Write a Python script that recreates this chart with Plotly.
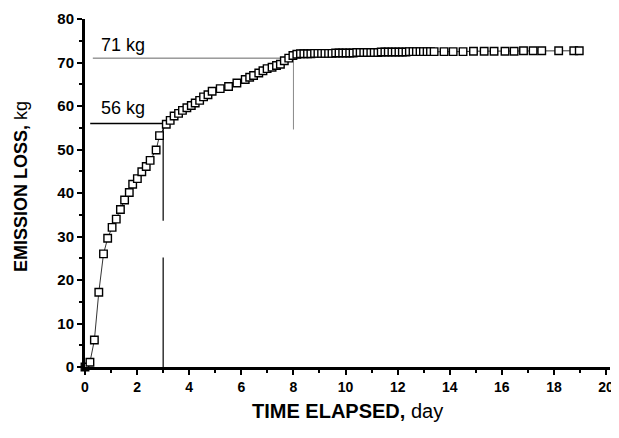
import plotly.graph_objects as go

# ---- data ----
days = [0.00, 0.19, 0.36, 0.53, 0.71, 0.87, 1.04, 1.20, 1.36, 1.52,
        1.70, 1.83, 2.01, 2.18, 2.35, 2.50, 2.73, 2.86, 3.12, 3.27,
        3.42, 3.59, 3.74, 3.91, 4.08, 4.23, 4.40, 4.55, 4.72, 4.88,
        5.19, 5.51, 5.83, 6.15, 6.32, 6.47, 6.67, 6.83, 6.99, 7.18,
        7.35, 7.50, 7.65, 7.82, 7.98,
        8.13, 8.27, 8.40, 8.54, 8.67, 8.81, 8.94, 9.08, 9.21, 9.35,
        9.48, 9.62, 9.75, 9.89, 10.02, 10.16, 10.29, 10.43, 10.56, 10.70,
        10.83, 10.97, 11.10, 11.24, 11.37, 11.51, 11.64, 11.78, 11.91, 12.05,
        12.18, 12.32, 12.45, 12.59, 12.72, 12.86, 12.99, 13.13, 13.26, 13.40,
        13.78, 14.13, 14.51, 14.91, 15.32, 15.70, 16.12, 16.47, 16.83, 17.20,
        17.53, 18.18, 18.76, 18.97]
loss_kg = [0.0, 1.1, 6.2, 17.2, 26.0, 29.6, 32.1, 34.0, 36.2, 38.4,
           40.1, 42.0, 43.3, 44.9, 46.1, 47.5, 49.9, 53.2, 55.8, 56.7,
           57.7, 58.3, 59.0, 59.6, 60.1, 60.7, 61.3, 62.1, 62.6, 63.4,
           64.0, 64.5, 65.3, 66.1, 66.6, 67.0, 67.6, 68.1, 68.6, 68.9,
           69.3, 69.6, 70.4, 71.0, 71.6,
           71.9, 72.0, 72.0, 72.0, 72.0, 72.1, 72.1, 72.1, 72.1, 72.1,
           72.1, 72.2, 72.2, 72.2, 72.2, 72.2, 72.2, 72.3, 72.3, 72.3,
           72.3, 72.3, 72.3, 72.3, 72.4, 72.4, 72.4, 72.4, 72.4, 72.4,
           72.4, 72.4, 72.5, 72.5, 72.5, 72.5, 72.5, 72.5, 72.5, 72.5,
           72.5, 72.5, 72.5, 72.6, 72.6, 72.6, 72.6, 72.6, 72.7, 72.7,
           72.7, 72.7, 72.7, 72.7]

x_ticks = [0, 2, 4, 6, 8, 10, 12, 14, 16, 18, 20]
y_ticks = [0, 10, 20, 30, 40, 50, 60, 70, 80]

marker_day_56 = 3.0
marker_kg_56 = 56
marker_day_71 = 8.0
marker_kg_71 = 71

FONT = "Liberation Sans, Arial, sans-serif"

fig = go.Figure()
fig.add_trace(go.Scatter(
    x=days, y=loss_kg, mode="lines+markers",
    line=dict(color="black", width=0.8),
    marker=dict(symbol="square", size=7.5, color="white",
                line=dict(color="black", width=1.4)),
    cliponaxis=False, showlegend=False, hoverinfo="x+y"))

shapes = [
    # 56 kg reference lines
    dict(type="line", x0=0.2, x1=marker_day_56, y0=marker_kg_56, y1=marker_kg_56,
         line=dict(color="black", width=1.5)),
    dict(type="line", x0=marker_day_56, x1=marker_day_56, y0=0, y1=25.2,
         line=dict(color="black", width=1.2)),
    dict(type="line", x0=marker_day_56, x1=marker_day_56, y0=33.6, y1=marker_kg_56,
         line=dict(color="black", width=1.2)),
    # 71 kg reference lines
    dict(type="line", x0=0.3, x1=marker_day_71, y0=marker_kg_71, y1=marker_kg_71,
         line=dict(color="#666666", width=1)),
    dict(type="line", x0=marker_day_71, x1=marker_day_71, y0=54.6, y1=marker_kg_71,
         line=dict(color="#888888", width=1)),
]
for s in shapes:
    s.update(xref="x", yref="y", layer="below")

annotations = [
    dict(x=0.55, y=74.1, xref="x", yref="y", text="71 kg",
         xanchor="left", yanchor="middle", showarrow=False,
         font=dict(family=FONT, size=18, color="black")),
    dict(x=0.55, y=59.6, xref="x", yref="y", text="56 kg",
         xanchor="left", yanchor="middle", showarrow=False,
         font=dict(family=FONT, size=18, color="black")),
    # axis titles
    dict(x=0.5, y=0, xref="paper", yref="paper", yshift=-44,
         text="<b>TIME ELAPSED,</b> day", xanchor="center", yanchor="middle",
         showarrow=False, font=dict(family=FONT, size=20, color="black")),
    dict(x=0, y=0.5, xref="paper", yref="paper", xshift=-64, yshift=6,
         textangle=-90,
         text="<b>EMISSION LOSS,</b> kg", xanchor="center", yanchor="middle",
         showarrow=False, font=dict(family=FONT, size=18, color="black")),
]

fig.update_layout(
    width=619, height=438,
    margin=dict(l=77, r=17, t=11, b=79, autoexpand=False),
    paper_bgcolor="white", plot_bgcolor="white",
    shapes=shapes, annotations=annotations,
    font=dict(family=FONT, color="black"),
)
fig.update_xaxes(
    range=[0, 20.15], tickvals=x_ticks, ticktext=[str(v) for v in x_ticks],
    showgrid=False, zeroline=False, automargin=False,
    showline=True, linecolor="black", linewidth=3,
    ticks="outside", ticklen=5, tickwidth=2, tickcolor="black",
    minor=dict(dtick=1, tick0=0, ticks="outside", ticklen=3, tickwidth=2,
               tickcolor="black", showgrid=False),
    tickfont=dict(family=FONT, size=14, color="black", weight="bold"),
)
fig.update_yaxes(
    range=[0, 80], tickvals=y_ticks, ticktext=[str(v) for v in y_ticks],
    showgrid=False, zeroline=False, automargin=False,
    showline=True, linecolor="black", linewidth=3,
    ticks="outside", ticklen=5, tickwidth=2, tickcolor="black",
    minor=dict(dtick=5, tick0=0, ticks="outside", ticklen=3, tickwidth=2,
               tickcolor="black", showgrid=False),
    tickfont=dict(family=FONT, size=15, color="black", weight="bold"),
)

fig.write_html("out.html")
